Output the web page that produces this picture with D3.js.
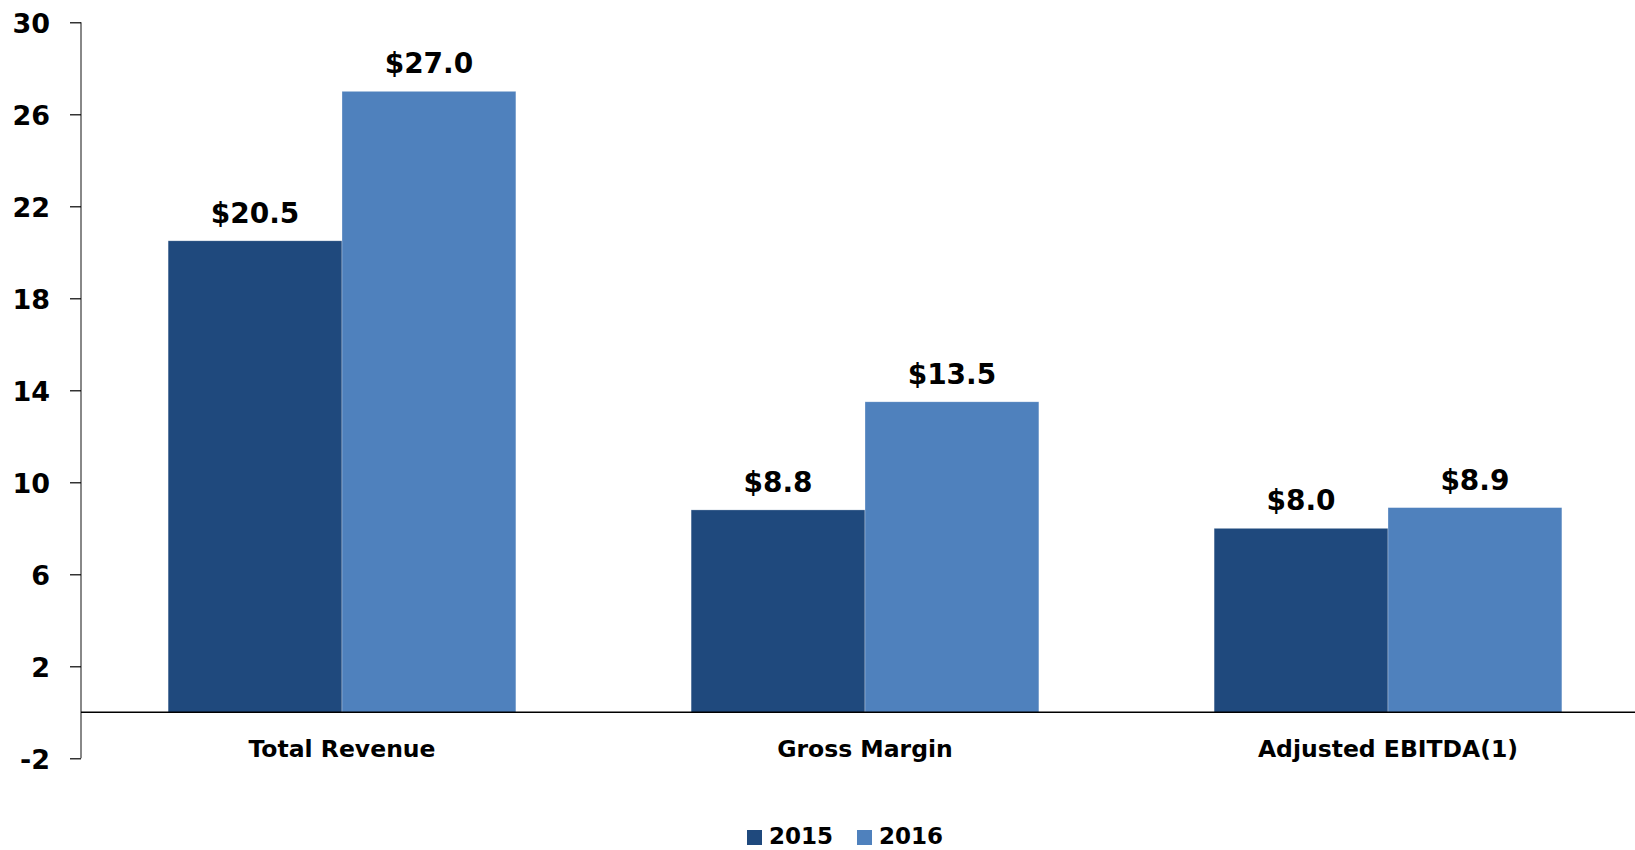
<!DOCTYPE html>
<html><head><meta charset="utf-8">
<script src="https://cdn.jsdelivr.net/npm/d3@7"></script>
<style>html,body{margin:0;padding:0;background:#fff;}svg{display:block;}</style>
</head><body>
<script>
const categories = ["Total Revenue", "Gross Margin", "Adjusted EBITDA(1)"];
const seriesNames = ["2015", "2016"];
const values2015 = [20.5, 8.8, 8.0];
const values2016 = [27.0, 13.5, 8.9];
const yTicks = [-2, 2, 6, 10, 14, 18, 22, 26, 30];
const colors = ["#1F497D", "#4F81BD"];

const W = 1635, H = 850;
const font = "'DejaVu Sans', Verdana, sans-serif";
const svg = d3.select("body").append("svg").attr("width", W).attr("height", H);

const y = d3.scaleLinear().domain([-2, 30]).range([758.3, 22.3]);
const x0 = d3.scaleBand().domain(categories).range([80.5, 1649.5]).paddingInner(0.335).paddingOuter(0.1675);
const x1 = d3.scaleBand().domain(seriesNames).range([0, x0.bandwidth()]);

const data = categories.map((c, i) => ({cat: c, vals: [values2015[i], values2016[i]]}));

// bars
const g = svg.append("g");
data.forEach(d => {
  d.vals.forEach((v, j) => {
    g.append("rect")
      .attr("x", x0(d.cat) + x1(seriesNames[j]))
      .attr("y", y(v))
      .attr("width", x1.bandwidth())
      .attr("height", y(0) - y(v))
      .attr("fill", colors[j])
      .attr("stroke", "rgba(255,255,255,0.5)")
      .attr("stroke-width", 0.6);
    g.append("text")
      .attr("x", x0(d.cat) + x1(seriesNames[j]) + x1.bandwidth() / 2)
      .attr("y", y(v) - 18)
      .attr("text-anchor", "middle")
      .attr("font-family", font).attr("font-weight", "bold").attr("font-size", 28)
      .attr("fill", "#000")
      .text("$" + v.toFixed(1));
  });
});

// y axis
const yAxis = d3.axisLeft(y).tickValues(yTicks).tickSize(11).tickPadding(20).tickFormat(d => String(d));
const ya = svg.append("g").attr("transform", "translate(81,0)").call(yAxis);
ya.select(".domain").attr("stroke", "#888").attr("stroke-width", 2).attr("d", `M0,${y(30)}V${y(-2)}`);
ya.selectAll(".tick line").attr("stroke", "#000").attr("stroke-width", 1.2).attr("x2", -11);
ya.selectAll(".tick text").attr("font-family", font).attr("font-weight", "bold").attr("font-size", 27).attr("fill", "#000").attr("dy", "0.36em");

// zero line
svg.append("line").attr("x1", 81).attr("x2", W).attr("y1", y(0)).attr("y2", y(0))
  .attr("stroke", "#000").attr("stroke-width", 1.5);

// category labels
svg.append("g").selectAll("text").data(categories).join("text")
  .attr("x", d => x0(d) + x0.bandwidth() / 2)
  .attr("y", 757)
  .attr("text-anchor", "middle")
  .attr("font-family", font).attr("font-weight", "bold").attr("font-size", 23.5)
  .attr("fill", "#000")
  .text(d => d);

// legend
const legendItems = [{name: seriesNames[0], sx: 747, tx: 769}, {name: seriesNames[1], sx: 857, tx: 879}];
legendItems.forEach((it, j) => {
  svg.append("rect").attr("x", it.sx).attr("y", 830).attr("width", 15).attr("height", 15).attr("fill", colors[j]);
  svg.append("text").attr("x", it.tx).attr("y", 844)
    .attr("font-family", font).attr("font-weight", "bold").attr("font-size", 23).attr("fill", "#000")
    .text(it.name);
});
</script>
</body></html>
